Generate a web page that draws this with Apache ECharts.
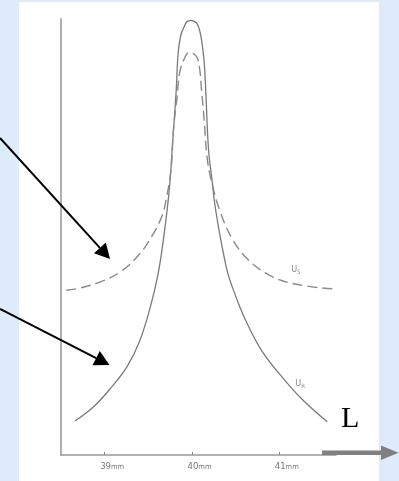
<!DOCTYPE html>
<html>
<head>
<meta charset="utf-8">
<script src="https://cdn.jsdelivr.net/npm/echarts@6/dist/echarts.min.js"></script>
<style>
  html, body { margin: 0; padding: 0; background: #ddebfb; }
  #panel { position: absolute; left: 19px; top: 2px; width: 360px; height: 479px; background: #ffffff; }
  #chart { position: absolute; left: 0; top: 0; width: 399px; height: 481px; }
</style>
</head>
<body>
<div id="panel"></div>
<div id="chart"></div>
<script>
// Resonance curves: U_R (solid) and U_S (dashed) against length L in mm
const tickValues = [39, 40, 41];
const tickUnit = 'mm';

const lengthR = [38.66, 38.87, 39.06, 39.26, 39.40, 39.52, 39.61, 39.68, 39.74, 39.78, 39.82, 39.84, 39.87, 39.91,
                 39.94, 39.98, 40.02, 40.06, 40.09, 40.11, 40.14, 40.16, 40.19, 40.23, 40.26, 40.31, 40.36, 40.41,
                 40.47, 40.55, 40.64, 40.81, 41.04, 41.27, 41.55];
const uR      = [7.8, 11.0, 15.1, 20.4, 26.1, 33.7, 41.3, 50.5, 60.8, 72.2, 83.7, 91.7, 96.1, 98.2,
                 99.3, 99.7, 99.5, 98.9, 97.2, 95.2, 90.1, 82.6, 70.0, 63.1, 57.8, 51.6, 46.3, 41.7,
                 38.1, 33.9, 29.8, 23.6, 17.7, 12.6, 7.6];

const lengthS = [38.56, 38.72, 38.95, 39.18, 39.40, 39.55, 39.66, 39.71, 39.76, 39.79, 39.83, 39.86, 39.91, 39.97,
                 40.01, 40.06, 40.09, 40.11, 40.14, 40.17, 40.22, 40.32, 40.47, 40.66, 40.93, 41.24, 41.62];
const uS      = [37.8, 38.3, 39.7, 42.0, 46.1, 50.5, 55.0, 59.2, 65.4, 75.0, 82.1, 87.8, 90.8, 92.4,
                 92.2, 91.1, 88.3, 83.7, 76.8, 68.8, 63.1, 56.0, 49.3, 44.5, 40.8, 39.0, 38.1];

const seriesNames = ['U_R', 'U_S'];
const seriesLabels = [['U', 'R'], ['U', 'S']];
const labelAnchors = [[41.24, 16.3], [41.19, 42.4]];

const axisTitle = 'L';

function pairs(xs, ys) { return xs.map((x, i) => [x, ys[i]]); }

// Straight pointer with a filled triangular head
function pointer(x0, y0, x1, y1, headLen, headHalf, color, width) {
  const dx = x1 - x0, dy = y1 - y0, len = Math.hypot(dx, dy);
  const ux = dx / len, uy = dy / len;
  const bx = x1 - ux * headLen, by = y1 - uy * headLen;
  return [
    { type: 'line', shape: { x1: x0, y1: y0, x2: bx, y2: by }, style: { stroke: color, lineWidth: width }, z: 10 },
    { type: 'polygon', shape: { points: [[x1, y1], [bx - uy * headHalf, by + ux * headHalf], [bx + uy * headHalf, by - ux * headHalf]] },
      style: { fill: color }, z: 10 }
  ];
}

const chart = echarts.init(document.getElementById('chart'), null, { renderer: 'canvas' });

const subRich = {
  b: { fontFamily: 'DejaVu Sans Condensed', fontSize: 9, color: '#888' },
  s: { fontFamily: 'DejaVu Sans Condensed', fontSize: 6, color: '#888', padding: [5, 0, 0, 0] }
};

function labelPoint(i) {
  return {
    symbol: 'circle', symbolSize: 0, silent: true,
    data: [{ coord: labelAnchors[i], label: { show: true, position: 'inside',
      formatter: '{b|' + seriesLabels[i][0] + '}{s|' + seriesLabels[i][1] + '}', rich: subRich } }]
  };
}

const graphics = []
  .concat(pointer(0, 138, 110, 259, 15, 8, '#000', 2))
  .concat(pointer(0, 309, 109.5, 365, 15, 8, '#000', 2))
  .concat([
    { type: 'rect', shape: { x: 322, y: 450.5, width: 60, height: 4.5 }, style: { fill: '#808080' }, z: 10 },
    { type: 'polygon', shape: { points: [[381, 445.5], [398.5, 452.7], [381, 460]] }, style: { fill: '#808080' }, z: 10 },
    { type: 'text', left: 341, top: 404, z: 10,
      style: { text: axisTitle, font: '30px "Liberation Serif"', fill: '#000' } }
  ]);

chart.setOption({
  animation: false,
  backgroundColor: 'transparent',
  grid: { left: 61, right: 63, top: 19, bottom: 26 },
  xAxis: {
    type: 'value', min: 38.5, max: 41.65,
    splitLine: { show: false },
    axisLine: { show: true, lineStyle: { color: '#999', width: 1.5 } },
    axisTick: { show: true, inside: true, length: 3, customValues: tickValues, lineStyle: { color: '#888', width: 1 } },
    axisLabel: {
      show: true, customValues: tickValues, margin: 6,
      formatter: v => '{p|}{n|' + v + '}{u|' + tickUnit + '}',
      rich: {
        p: { width: 15 },
        n: { fontFamily: 'DejaVu Sans Condensed', fontSize: 9.5, color: '#777' },
        u: { fontFamily: 'DejaVu Sans Condensed', fontSize: 7.5, color: '#777' }
      }
    }
  },
  yAxis: {
    type: 'value', min: 0, max: 100,
    splitLine: { show: false },
    axisLine: { show: true, lineStyle: { color: '#b0b0b0', width: 2 } },
    axisTick: { show: false },
    axisLabel: { show: false }
  },
  series: [
    {
      name: seriesNames[0], type: 'line', data: pairs(lengthR, uR),
      showSymbol: false, smooth: 0.4,
      lineStyle: { color: '#7a7a7a', width: 1.3 },
      markPoint: labelPoint(0)
    },
    {
      name: seriesNames[1], type: 'line', data: pairs(lengthS, uS),
      showSymbol: false, smooth: 0.4,
      lineStyle: { color: '#8a8a8a', width: 1.4, type: [10, 5] },
      markPoint: labelPoint(1)
    }
  ],
  graphic: graphics
});
</script>
</body>
</html>
